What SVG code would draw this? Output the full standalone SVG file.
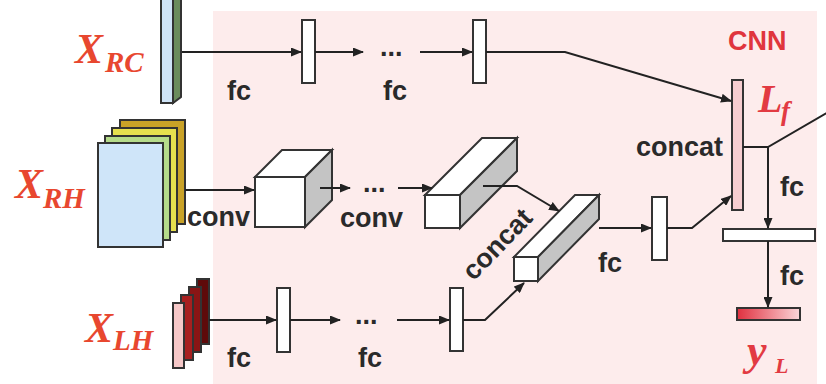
<svg xmlns="http://www.w3.org/2000/svg" width="826" height="384" viewBox="0 0 826 384">
<style>
.ln{stroke:#222;stroke-width:2;fill:none}
.bx{stroke:#333;stroke-width:2}
.bar{fill:#fff;stroke:#333;stroke-width:2}
.lbl{font-family:"Liberation Sans",Arial,sans-serif;font-weight:bold;font-size:27px;fill:#2a2a2a}
.var{font-family:"Liberation Serif","Times New Roman",serif;font-weight:bold;font-style:italic;fill:#e8472f}
.red{fill:#e23a42}
.top{fill:#fff}
.side{fill:#c4c4c4}
</style>
<defs>
<marker id="ah" markerUnits="userSpaceOnUse" markerWidth="11" markerHeight="9" refX="10" refY="4.5" orient="auto">
<path d="M0,0 L11,4.5 L0,9 z" fill="#222"/>
</marker>
<linearGradient id="yg" x1="0" x2="1" y1="0" y2="0">
<stop offset="0" stop-color="#e0303f"/>
<stop offset="1" stop-color="#fbd6d9"/>
</linearGradient>
</defs>
<rect x="0" y="0" width="826" height="384" fill="#fff"/>
<rect x="213" y="11" width="604" height="380" fill="#fdecec"/>

<g id="x_rc">
<rect class="bx" x="161" y="-10" width="12" height="113" fill="#cfe4f7"/>
<polygon class="bx" points="173,-10 181,-16 181,97 173,103" fill="#6b8c5c"/>
<text class="var" x="75" y="63" font-size="42">X</text>
<text class="var" x="105" y="72" font-size="29">RC</text>
</g>

<g id="x_rh">
<rect class="bx" x="120" y="120" width="65" height="104" fill="#c9a227"/>
<rect class="bx" x="112" y="128" width="65" height="104" fill="#e6e04e"/>
<rect class="bx" x="105" y="136" width="65" height="104" fill="#b5db8a"/>
<rect class="bx" x="98" y="143" width="65" height="104" fill="#cfe5f9"/>
<text class="var" x="15" y="198" font-size="42">X</text>
<text class="var" x="43" y="208" font-size="29">RH</text>
</g>

<g id="x_lh">
<rect class="bx" x="197" y="279" width="12" height="65" fill="#5e0a0a"/>
<rect class="bx" x="189" y="287" width="12" height="65" fill="#8a1515"/>
<rect class="bx" x="181" y="295" width="12" height="65" fill="#a81f1f"/>
<rect class="bx" x="173" y="303" width="11" height="65" fill="#f6c8c8"/>
<text class="var" x="85" y="342" font-size="42">X</text>
<text class="var" x="113" y="350" font-size="29">LH</text>
</g>

<g id="fc_top1"><rect class="bar" x="302" y="20" width="13" height="63"/></g>
<g id="fc_top2"><rect class="bar" x="473" y="20" width="13" height="63"/></g>
<g id="fc_bot1"><rect class="bar" x="277" y="288" width="13" height="64"/></g>
<g id="fc_bot2"><rect class="bar" x="450" y="288" width="13" height="63"/></g>
<g id="fc_mid"><rect class="bar" x="652" y="197" width="15" height="63"/></g>

<g id="cube1">
<rect class="bx top" x="255" y="177" width="50" height="50"/>
<polygon class="bx top" points="255,177 282,150 332,150 305,177"/>
<polygon class="bx side" points="305,177 332,150 332,200 305,227"/>
</g>

<g id="box2">
<rect class="bx top" x="425" y="195" width="35" height="33"/>
<polygon class="bx top" points="425,195 482,138 517,138 460,195"/>
<polygon class="bx side" points="460,195 517,138 517,171 460,228"/>
</g>

<g id="box3">
<rect class="bx top" x="514" y="257" width="24" height="24"/>
<polygon class="bx top" points="514,257 575,195 599,195 538,257"/>
<polygon class="bx side" points="538,257 599,195 599,219 538,281"/>
</g>

<g id="lf">
<rect class="bx" x="732" y="80" width="11" height="130" fill="#f6cdd0"/>
<text class="var red" x="758" y="112" font-size="40">L</text>
<text class="var red" x="781" y="120" font-size="27">f</text>
</g>

<g id="fc_out"><rect class="bar" x="723" y="229" width="92" height="12"/></g>

<g id="yl">
<rect class="bx" x="737" y="308" width="63" height="12" fill="url(#yg)"/>
<text class="var red" x="747" y="365" font-size="44">y</text>
<text class="var red" x="775" y="373" font-size="22">L</text>
</g>

<g id="connectors">
<path class="ln" d="M182,52 H301" marker-end="url(#ah)"/>
<path class="ln" d="M315,52 H363" marker-end="url(#ah)"/>
<path class="ln" d="M420,52 H472" marker-end="url(#ah)"/>
<path class="ln" d="M486,52 H565 L731,101" marker-end="url(#ah)"/>
<path class="ln" d="M185,190 H254" marker-end="url(#ah)"/>
<path class="ln" d="M320,188 H350" marker-end="url(#ah)"/>
<path class="ln" d="M398,188 H432" marker-end="url(#ah)"/>
<path class="ln" d="M483,186 H517 L559,211" marker-end="url(#ah)"/>
<path class="ln" d="M599,228 H651" marker-end="url(#ah)"/>
<path class="ln" d="M667,228 H692 L731,196" marker-end="url(#ah)"/>
<path class="ln" d="M209,320 H276" marker-end="url(#ah)"/>
<path class="ln" d="M290,320 H340" marker-end="url(#ah)"/>
<path class="ln" d="M397,320 H449" marker-end="url(#ah)"/>
<path class="ln" d="M463,320 H485 L524,283" marker-end="url(#ah)"/>
<path class="ln" d="M743,147 H768 L830,111"/>
<path class="ln" d="M768,147 V228" marker-end="url(#ah)"/>
<path class="ln" d="M768,241 V307" marker-end="url(#ah)"/>
</g>

<g id="labels">
<text class="lbl" x="380" y="56">...</text>
<text class="lbl" x="363" y="192">...</text>
<text class="lbl" x="355" y="324">...</text>
<text class="lbl" x="227" y="100">fc</text>
<text class="lbl" x="383" y="100">fc</text>
<text class="lbl" x="227" y="367">fc</text>
<text class="lbl" x="358" y="367">fc</text>
<text class="lbl" x="598" y="272">fc</text>
<text class="lbl" x="780" y="196">fc</text>
<text class="lbl" x="780" y="285">fc</text>
<text class="lbl" x="187" y="226">conv</text>
<text class="lbl" x="340" y="227">conv</text>
<text class="lbl" x="723" y="156" text-anchor="end">concat</text>
<text class="lbl" transform="translate(498,245) rotate(-46)" x="0" y="8" text-anchor="middle">concat</text>
<text class="lbl" x="728" y="50" font-size="29" fill="#e0353d" style="fill:#e0353d">CNN</text>
</g>
</svg>
